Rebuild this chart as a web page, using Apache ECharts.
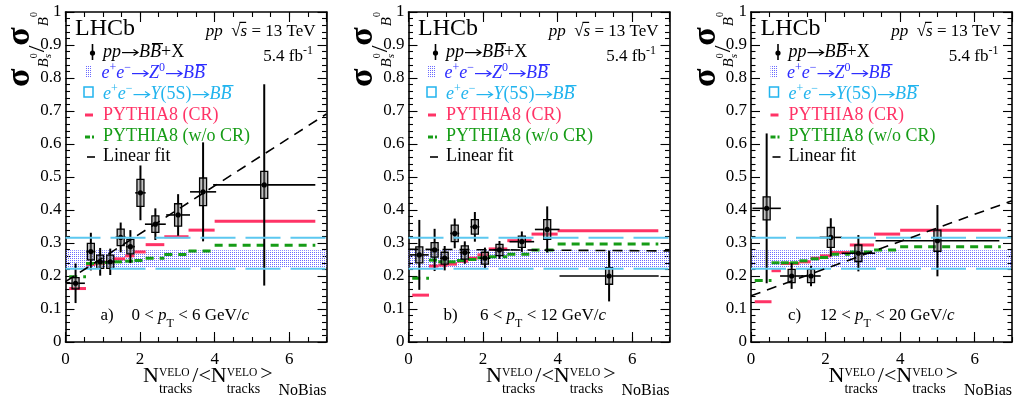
<!DOCTYPE html>
<html>
<head>
<meta charset="utf-8">
<script src="https://cdn.jsdelivr.net/npm/echarts@6.0.0/dist/echarts.min.js"></script>
<style>
html, body { margin: 0; padding: 0; background: #fff; }
#chart { width: 1017px; height: 405px; }
</style>
</head>
<body>
<div id="chart"></div>
<script>
// ---- data ----
// bin edges of the multiplicity classes (used by the PYTHIA8 curves)
var binEdges = [0.1, 0.55, 0.8, 1.05, 1.3, 1.6, 1.85, 2.15, 2.65, 3.3, 4.0, 6.7];

// PYTHIA8 (CR), one value per bin
var crA = [0.162, 0.235, 0.238, 0.242, 0.252, 0.261, 0.273, 0.295, 0.319, 0.339, 0.366];
var crB = [0.142, 0.230, 0.233, 0.236, 0.245, 0.254, 0.264, 0.282, 0.307, 0.327, 0.337];
var crC = [0.122, 0.216, 0.238, 0.238, 0.243, 0.254, 0.261, 0.271, 0.294, 0.327, 0.339];

// PYTHIA8 (w/o CR)
var noCrA = [0.198, 0.238, 0.240, 0.241, 0.243, 0.245, 0.247, 0.254, 0.265, 0.276, 0.293];
var noCrB = [0.193, 0.248, 0.243, 0.243, 0.247, 0.250, 0.255, 0.258, 0.266, 0.279, 0.297];
var noCrC = [0.186, 0.240, 0.240, 0.240, 0.246, 0.252, 0.256, 0.266, 0.273, 0.279, 0.289];

// measurements: [x, x half-width, ratio, stat. error, syst. error]
var pointsA = [
  [0.27, 0.25, 0.178, 0.060, 0.017],
  [0.68, 0.12, 0.274, 0.057, 0.025],
  [0.93, 0.12, 0.243, 0.042, 0.020],
  [1.20, 0.12, 0.243, 0.040, 0.020],
  [1.48, 0.14, 0.317, 0.045, 0.025],
  [1.74, 0.12, 0.289, 0.050, 0.022],
  [2.01, 0.14, 0.452, 0.083, 0.041],
  [2.41, 0.28, 0.357, 0.048, 0.025],
  [3.02, 0.32, 0.385, 0.063, 0.034],
  [3.69, 0.35, 0.455, 0.150, 0.042],
  [5.33, 1.37, 0.476, 0.305, 0.041]
];
var pointsB = [
  [0.29, 0.25, 0.264, 0.106, 0.024],
  [0.70, 0.12, 0.279, 0.064, 0.022],
  [0.97, 0.12, 0.254, 0.037, 0.018],
  [1.24, 0.12, 0.329, 0.045, 0.025],
  [1.51, 0.14, 0.271, 0.034, 0.020],
  [1.78, 0.12, 0.349, 0.045, 0.022],
  [2.05, 0.14, 0.254, 0.032, 0.018],
  [2.44, 0.28, 0.279, 0.027, 0.017],
  [3.04, 0.33, 0.304, 0.031, 0.017],
  [3.72, 0.33, 0.341, 0.070, 0.030],
  [5.38, 1.33, 0.200, 0.077, 0.025]
];
var pointsC = [
  [0.42, 0.38, 0.405, 0.227, 0.035],
  [1.09, 0.31, 0.200, 0.039, 0.020],
  [1.61, 0.26, 0.200, 0.031, 0.020],
  [2.14, 0.30, 0.317, 0.058, 0.030],
  [2.88, 0.45, 0.269, 0.055, 0.025],
  [5.00, 1.66, 0.307, 0.108, 0.032]
];

// linear fits: value at fitX[0] and fitX[1]
var fitX = [0, 7];
var fitA = [0.183, 0.691];
var fitB = [0.281, 0.276];
var fitC = [0.140, 0.428];

// e+e- references
var z0Band = [0.226, 0.278];
var y5sBand = [0.222, 0.316];

var panelTags = ['a)', 'b)', 'c)'];
var ptLow = ['0', '6', '12'];
var ptHigh = ['6', '12', '20'];

// ---- layout ----
var FONT = '"Liberation Serif", "Times New Roman", serif';
var panelLeft = [65.5, 408.5, 751];
var tagOffset = [35, 35, 37];
var rangeOffset = [66, 71.5, 69];
var RED = '#ff3366', GREEN = '#169c16', BLUE = '#2e2eff', CYAN = '#22b4ee', CYANLINE = '#5cc8f0';

var panels = [
  { pts: pointsA, cr: crA, nocr: noCrA, fit: fitA },
  { pts: pointsB, cr: crB, nocr: noCrB, fit: fitB },
  { pts: pointsC, cr: crC, nocr: noCrC, fit: fitC }
];

// dotted fill for the Z0 band
var pat = document.createElement('canvas');
pat.width = 2; pat.height = 2;
var pc = pat.getContext('2d');
pc.fillStyle = '#6a6aff';
pc.fillRect(0, 0, 1, 1);

// text helper: lays out pieces with sub/superscripts along a baseline
var mctx = document.createElement('canvas').getContext('2d');
function fnt(q) {
  return (q.i ? 'italic ' : '') + (q.b ? 'bold ' : '') + q.s + 'px ' + FONT;
}
function tw(t, f) { mctx.font = f; return mctx.measureText(t).width; }
function run(x, base, parts, color, size, align) {
  var list = parts.map(function (p) {
    if (p.arrow) return { p: p, subs: [], w: p.arrow };
    var subs = (p.sup || p.sub) ? [p.sup, p.sub].filter(Boolean) : [p];
    subs.forEach(function (q) { q.s = q.s || size; q.w = tw(q.t, fnt(q)); });
    return { p: p, subs: subs, w: Math.max.apply(null, subs.map(function (q) { return q.w; })) };
  });
  var total = list.reduce(function (a, o) { return a + o.w + (o.p.dx || 0); }, 0);
  var cx = align === 'right' ? x - total : x;
  var els = [];
  list.forEach(function (o) {
    cx += o.p.dx || 0;
    if (o.p.arrow) {
      var ay = base - 0.3 * size, x1 = cx + 1, x2 = cx + o.w - 1;
      els.push({ type: 'line', silent: true, shape: { x1: x1, y1: ay, x2: x2, y2: ay },
        style: { stroke: color, lineWidth: 1.2 } });
      els.push({ type: 'polyline', silent: true,
        shape: { points: [[x2 - 4.5, ay - 3], [x2, ay], [x2 - 4.5, ay + 3]] },
        style: { stroke: color, lineWidth: 1.2, fill: 'none' } });
    }
    o.subs.forEach(function (q) {
      var yb = base + (q.dy || 0);
      els.push({
        type: 'text', x: cx, y: yb - 0.34 * q.s, silent: true,
        style: { text: q.t, font: fnt(q), fill: q.c || color,
          textAlign: 'left', textVerticalAlign: 'middle', align: 'left', verticalAlign: 'middle' }
      });
      if (q.over) {
        var ox = q.ox || 0, oy = yb - q.s * (q.oh || 0.8);
        els.push({ type: 'line', silent: true,
          shape: { x1: cx + ox, y1: oy, x2: cx + q.w + ox, y2: oy },
          style: { stroke: q.c || color, lineWidth: 1.2 } });
      }
    });
    cx += o.w;
  });
  return els;
}

function bbar() { return { t: 'B', i: 1, over: true, ox: 2, oh: 0.8 }; }

function panelGraphics(k) {
  var X0 = panelLeft[k];
  var g = [];
  var tx = X0 + 37.5;
  g = g.concat(run(X0 + 9.5, 37, [{ t: 'LHCb' }], '#000', 24));
  g = g.concat(run(X0 + 250, 37, [
    { t: 'pp', i: 1 }, { t: '  ' }, { t: '\u221a' }, { t: 's', i: 1, over: true, oh: 0.86, ox: -1 },
    { t: ' = 13 TeV' }], '#000', 17, 'right'));
  g = g.concat(run(X0 + 247.5, 62, [{ t: '5.4 fb' }, { t: '-1', s: 12, dy: -7 }], '#000', 17, 'right'));

  // legend symbols
  g.push({ type: 'line', silent: true, shape: { x1: X0 + 27, y1: 44, x2: X0 + 27, y2: 60 }, style: { stroke: '#000', lineWidth: 1.6 } });
  g.push({ type: 'circle', silent: true, shape: { cx: X0 + 27, cy: 53, r: 2.6 }, style: { fill: '#000' } });
  g.push({ type: 'rect', silent: true, shape: { x: X0 + 19.5, y: 66, width: 7, height: 11 }, style: { fill: { image: pat, repeat: 'repeat' } } });
  g.push({ type: 'rect', silent: true, shape: { x: X0 + 18.5, y: 87, width: 9, height: 10 }, style: { fill: 'none', stroke: CYAN, lineWidth: 1.5 } });
  g.push({ type: 'line', silent: true, shape: { x1: X0 + 19.5, y1: 115, x2: X0 + 27.5, y2: 115 }, style: { stroke: RED, lineWidth: 3 } });
  g.push({ type: 'line', silent: true, shape: { x1: X0 + 19.5, y1: 137, x2: X0 + 24.5, y2: 137 }, style: { stroke: GREEN, lineWidth: 3 } });
  g.push({ type: 'line', silent: true, shape: { x1: X0 + 26.5, y1: 137, x2: X0 + 28.5, y2: 137 }, style: { stroke: GREEN, lineWidth: 3 } });
  g.push({ type: 'line', silent: true, shape: { x1: X0 + 21.5, y1: 157, x2: X0 + 29.5, y2: 157 }, style: { stroke: '#000', lineWidth: 1.6 } });

  // legend texts
  g = g.concat(run(tx, 58, [{ t: 'pp', i: 1 }, { arrow: 18 }, { t: 'B', i: 1 }, bbar(), { t: '+X' }], '#000', 18));
  g = g.concat(run(tx - 1.5, 79, [{ t: 'e', i: 1 }, { t: '+', s: 12, dy: -7 }, { t: 'e', i: 1 }, { t: '\u2212', s: 12, dy: -7 },
    { arrow: 18 }, { t: 'Z', i: 1 }, { t: '0', s: 12, dy: -7 }, { arrow: 18 }, { t: 'B', i: 1 }, bbar()], BLUE, 18));
  g = g.concat(run(tx, 100, [{ t: 'e', i: 1 }, { t: '+', s: 12, dy: -7 }, { t: 'e', i: 1 }, { t: '\u2212', s: 12, dy: -7 },
    { arrow: 18 }, { t: 'Y', i: 1 }, { t: '(5S)' }, { arrow: 18 }, { t: 'B', i: 1 }, bbar()], CYAN, 18));
  g = g.concat(run(tx, 121, [{ t: 'PYTHIA8 (CR)' }], RED, 18));
  g = g.concat(run(tx, 142, [{ t: 'PYTHIA8 (w/o CR)' }], GREEN, 18));
  g = g.concat(run(tx, 162, [{ t: 'Linear fit' }], '#000', 18));

  // panel tag and pT range
  g = g.concat(run(X0 + tagOffset[k], 321, [{ t: panelTags[k] }], '#000', 17));
  g = g.concat(run(X0 + rangeOffset[k], 321, [{ t: ptLow[k] + ' < ' }, { t: 'p', i: 1 }, { t: 'T', s: 12, dy: 7 },
    { t: ' < ' + ptHigh[k] + ' GeV/' }, { t: 'c', i: 1 }], '#000', 17));

  // x-axis title
  function stack() { return { sup: { t: 'VELO', s: 11.5, dy: -7 }, sub: { t: 'tracks', s: 14, dy: 10 } }; }
  g = g.concat(run(X0 + 77.5, 384, [{ t: 'N' }, stack(), { t: '/' }, { t: '<' }, { t: 'N' }, stack(),
    { t: '>', dy: -2 }, { t: 'NoBias', s: 16, dy: 12, dx: 6 }], '#000', 22));

  // y-axis title (rotated)
  g.push({
    type: 'group', x: X0 - 33.5, y: 87, rotation: Math.PI / 2, silent: true,
    children: run(0, 0, [
      { t: '\u03c3', s: 34, b: 1 }, { t: 'B', s: 15, i: 1, dy: 17, dx: 1 },
      { sup: { t: '0', s: 10, dy: 6 }, sub: { t: 's', s: 11, i: 1, dy: 20 } },
      { t: '/', s: 24, dy: 14, dx: 1 },
      { t: '\u03c3', s: 34, b: 1 }, { t: 'B', s: 15, i: 1, dy: 17, dx: 1 },
      { t: '0', s: 10, dy: 6 }
    ], '#000', 18)
  });
  return g;
}

// ---- axes ----
var tickLine = { color: '#000', width: 1.1 };
var xAxes = [], yAxes = [], grids = [], series = [];
panelLeft.forEach(function (X0, k) {
  grids.push({ left: X0, top: 12, width: 261, height: 330 });
  ['bottom', 'top'].forEach(function (pos) {
    xAxes.push({
      gridIndex: k, type: 'value', min: 0, max: 7, interval: 2, position: pos, silent: true,
      axisLine: { show: true, onZero: false, lineStyle: { color: '#000', width: 1.6 } },
      axisTick: { show: true, inside: true, length: 10, lineStyle: tickLine },
      splitLine: { show: false },
      axisLabel: { show: pos === 'bottom', showMaxLabel: false, margin: 9, color: '#000', fontSize: 17, fontFamily: FONT }
    });
    xAxes.push({
      gridIndex: k, type: 'value', min: 0, max: 7, interval: 0.5, position: pos, silent: true,
      axisLine: { show: false, onZero: false },
      axisTick: { show: true, inside: true, length: 5, lineStyle: tickLine },
      splitLine: { show: false }, axisLabel: { show: false }
    });
  });
  ['left', 'right'].forEach(function (pos) {
    yAxes.push({
      gridIndex: k, type: 'value', min: 0, max: 1, interval: 0.1, position: pos, silent: true,
      axisLine: { show: true, onZero: false, lineStyle: { color: '#000', width: 1.6 } },
      axisTick: { show: true, inside: true, length: 9, lineStyle: tickLine },
      minorTick: { show: true, splitNumber: 5, length: 4.5, lineStyle: tickLine },
      splitLine: { show: false }, minorSplitLine: { show: false },
      axisLabel: { show: pos === 'left', margin: 4, color: '#000', fontSize: 17, fontFamily: FONT }
    });
  });
});

// ---- series ----
function segData(vals) {
  return vals.map(function (v, i) { return [binEdges[i], binEdges[i + 1], v]; });
}
function segRender(color, dash) {
  return function (params, api) {
    var p0 = api.coord([api.value(0), api.value(2)]);
    var p1 = api.coord([api.value(1), api.value(2)]);
    return { type: 'line', shape: { x1: p0[0], y1: p0[1], x2: p1[0], y2: p1[1] },
      style: { stroke: color, lineWidth: 3, lineDash: dash || null } };
  };
}
function bandRender(params, api) {
  var a = api.coord([api.value(0), api.value(2)]);
  var b = api.coord([api.value(1), api.value(3)]);
  return { type: 'rect', shape: { x: a[0], y: b[1], width: b[0] - a[0], height: a[1] - b[1] },
    style: { fill: { image: pat, repeat: 'repeat' } } };
}
function pointRender(params, api) {
  var x = api.value(0), xe = api.value(1), y = api.value(2), st = api.value(3), sy = api.value(4);
  var c = api.coord([x, y]);
  var l = api.coord([x - xe, y]), r = api.coord([x + xe, y]);
  var t = api.coord([x, y + st]), b = api.coord([x, y - st]);
  var bt = api.coord([x, y + sy]), bb = api.coord([x, y - sy]);
  return { type: 'group', children: [
    { type: 'line', shape: { x1: l[0], y1: c[1], x2: r[0], y2: c[1] }, style: { stroke: '#000', lineWidth: 1.6 } },
    { type: 'line', shape: { x1: c[0], y1: t[1], x2: c[0], y2: b[1] }, style: { stroke: '#000', lineWidth: 2 } },
    { type: 'rect', shape: { x: c[0] - 3.5, y: bt[1], width: 7, height: bb[1] - bt[1] },
      style: { fill: 'rgba(120,120,120,0.45)', stroke: '#000', lineWidth: 1.3 } },
    { type: 'circle', shape: { cx: c[0], cy: c[1], r: 2.6 }, style: { fill: '#000' } }
  ] };
}

panels.forEach(function (p, k) {
  var xi = k * 4, yi = k * 2;
  series.push({ type: 'custom', xAxisIndex: xi, yAxisIndex: yi, silent: true, clip: false,
    encode: { x: [0, 1], y: [2, 3] }, renderItem: bandRender,
    data: [[fitX[0], fitX[1], z0Band[0], z0Band[1]]] });
  y5sBand.forEach(function (v) {
    series.push({ type: 'line', xAxisIndex: xi, yAxisIndex: yi, silent: true, symbol: 'none',
      lineStyle: { color: CYANLINE, width: 2, type: [35, 10] },
      data: [[fitX[0], v], [fitX[1], v]] });
  });
  series.push({ type: 'custom', xAxisIndex: xi, yAxisIndex: yi, silent: true, clip: false,
    encode: { x: [0, 1], y: 2 }, renderItem: segRender(RED), data: segData(p.cr) });
  series.push({ type: 'custom', xAxisIndex: xi, yAxisIndex: yi, silent: true, clip: false,
    encode: { x: [0, 1], y: 2 }, renderItem: segRender(GREEN, [8, 6]), data: segData(p.nocr) });
  series.push({ type: 'line', xAxisIndex: xi, yAxisIndex: yi, silent: true, symbol: 'none',
    lineStyle: { color: '#000', width: 1.6, type: [10, 7] },
    data: [[fitX[0], p.fit[0]], [fitX[1], p.fit[1]]] });
  series.push({ type: 'custom', xAxisIndex: xi, yAxisIndex: yi, silent: true, clip: false,
    encode: { x: 0, y: 2 }, renderItem: pointRender, data: p.pts });
});

var graphics = [];
panelLeft.forEach(function (X0, k) { graphics = graphics.concat(panelGraphics(k)); });

var chart = echarts.init(document.getElementById('chart'), null, { renderer: 'canvas' });
chart.setOption({
  animation: false,
  backgroundColor: '#fff',
  grid: grids,
  xAxis: xAxes,
  yAxis: yAxes,
  series: series,
  graphic: { elements: graphics }
});
</script>
</body>
</html>
